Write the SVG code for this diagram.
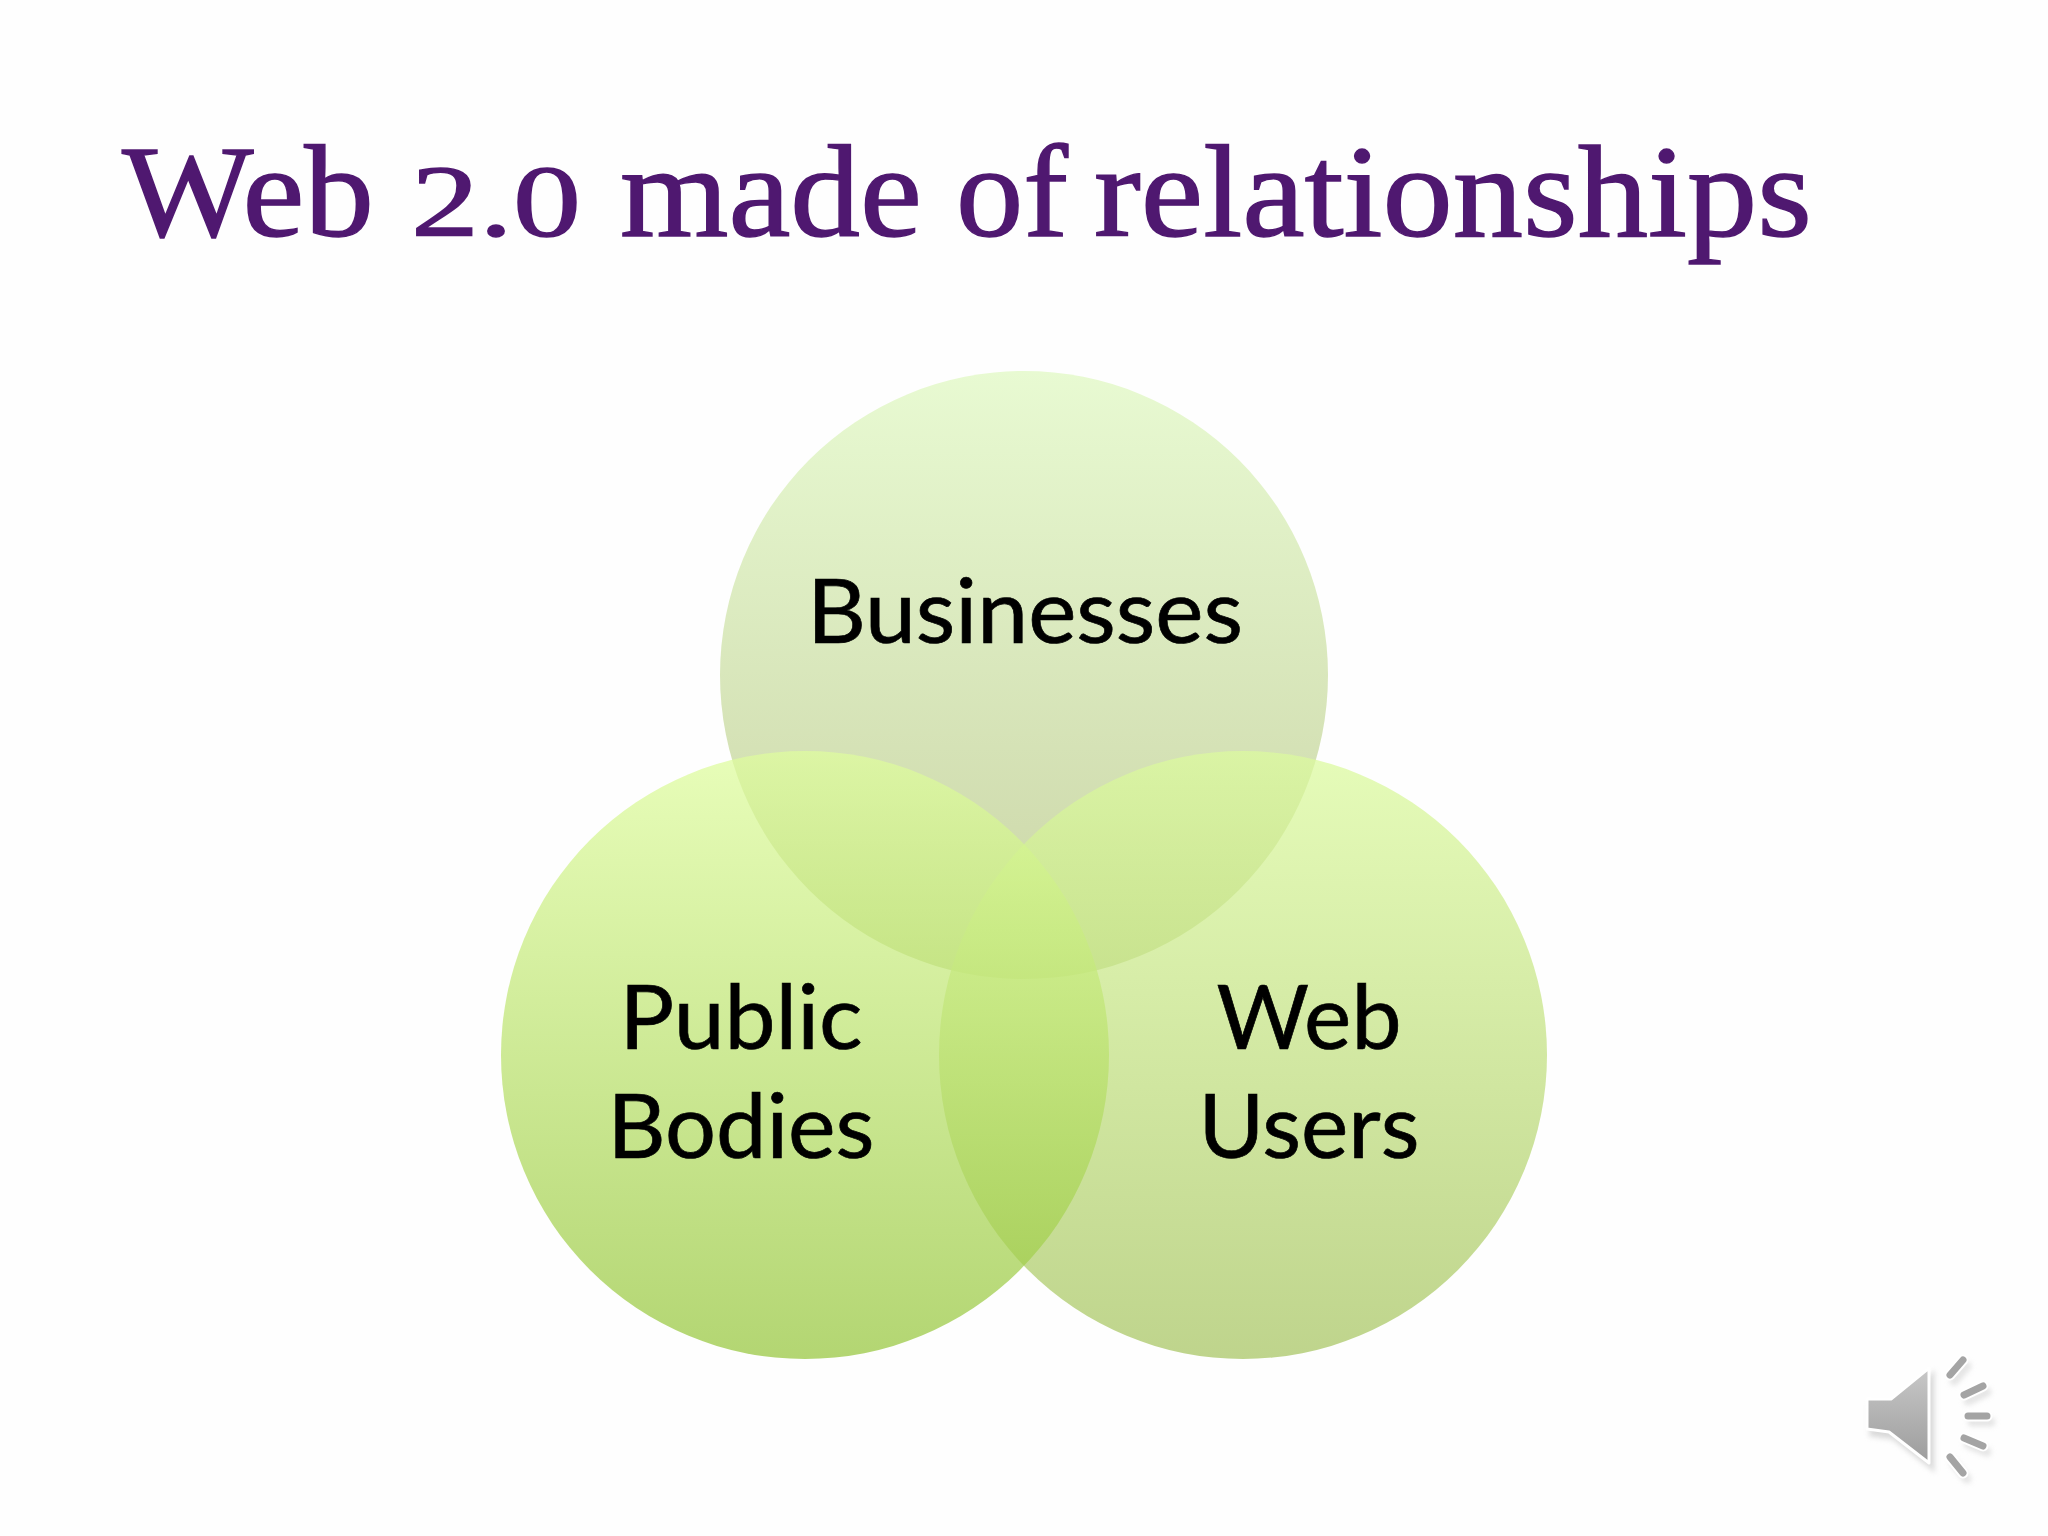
<svg xmlns="http://www.w3.org/2000/svg" width="2048" height="1536" viewBox="0 0 2048 1536">
<defs>
<linearGradient id="gb" x1="0" y1="0" x2="0" y2="1"><stop offset="0" stop-color="#e8fad2"/><stop offset="0.75" stop-color="#d1ddb0"/><stop offset="1" stop-color="#c8d8a0"/></linearGradient>
<linearGradient id="gp" x1="0" y1="0" x2="0" y2="1"><stop offset="0" stop-color="#dffd9e"/><stop offset="1" stop-color="#96c63c"/></linearGradient>
<linearGradient id="gw" x1="0" y1="0" x2="0" y2="1"><stop offset="0" stop-color="#dcfb9e"/><stop offset="1" stop-color="#a6c460"/></linearGradient>
<linearGradient id="gs" x1="0" y1="0" x2="0" y2="1"><stop offset="0" stop-color="#c8c8c8"/><stop offset="1" stop-color="#9c9c9c"/></linearGradient>
<filter id="blur" x="-20%" y="-20%" width="140%" height="140%"><feGaussianBlur stdDeviation="2.5"/></filter>
<style>
.ttl{font-family:"Liberation Serif",serif;font-size:132px;fill:#4f1870;stroke:#4f1870;stroke-width:1.4}
.lab{font-family:"Lato","Liberation Sans",sans-serif;font-size:90px;fill:#000;stroke:#000;stroke-width:0.7;text-anchor:middle}
.tick{stroke:#a4a4a4;stroke-width:7;stroke-linecap:round;fill:none}
.under{stroke:#fff;stroke-width:11;stroke-linecap:round;fill:none}
.halo{stroke:#d4d4d4;stroke-width:9;stroke-linecap:round;fill:none}
</style>
</defs>
<rect width="2048" height="1536" fill="#fefefe"/>
<g id="title"><text class="ttl" y="236"><tspan x="122" textLength="252" lengthAdjust="spacingAndGlyphs">Web</tspan> <tspan x="411" font-size="102" textLength="170" lengthAdjust="spacingAndGlyphs">2.0</tspan> <tspan x="620" textLength="302" lengthAdjust="spacingAndGlyphs">made</tspan> <tspan x="956" textLength="112" lengthAdjust="spacingAndGlyphs">of</tspan> <tspan x="1094" textLength="718" lengthAdjust="spacingAndGlyphs">relationships</tspan></text></g>
<g id="node-businesses"><circle cx="1024" cy="675" r="304" fill="url(#gb)"/></g>
<g id="node-web-users"><circle cx="1243" cy="1055" r="304" fill="url(#gw)" fill-opacity="0.72"/></g>
<g id="node-public-bodies"><circle cx="805" cy="1055" r="304" fill="url(#gp)" fill-opacity="0.72"/></g>
<g id="connectors"></g>
<g id="labels">
<text class="lab" x="1025" y="643" textLength="436" lengthAdjust="spacingAndGlyphs">Businesses</text>
<text class="lab" x="741" y="1049" textLength="243" lengthAdjust="spacingAndGlyphs">Public</text>
<text class="lab" x="741" y="1158" textLength="267" lengthAdjust="spacingAndGlyphs">Bodies</text>
<text class="lab" x="1309" y="1049" textLength="185" lengthAdjust="spacingAndGlyphs">Web</text>
<text class="lab" x="1309" y="1158" textLength="221" lengthAdjust="spacingAndGlyphs">Users</text>
</g>
<g id="speaker">
<g filter="url(#blur)" opacity="0.6" transform="translate(4,6)">
<path d="M1867 1399H1891L1929 1368V1463L1889 1432L1867 1429Z" fill="#bbb" stroke="#ccc" stroke-width="4"/>
<path class="halo" d="M1950 1375L1963 1360M1964 1395L1983 1386M1968 1416H1987M1964 1438L1983 1446M1950 1457L1963 1473"/>
</g>
<path d="M1867 1399H1891L1929 1368V1463L1889 1432L1867 1429Z" fill="url(#gs)" stroke="#fff" stroke-width="3" stroke-linejoin="round"/>
<path class="under" d="M1950 1375L1963 1360M1964 1395L1983 1386M1968 1416H1987M1964 1438L1983 1446M1950 1457L1963 1473"/>
<path class="tick" d="M1950 1375L1963 1360M1964 1395L1983 1386M1968 1416H1987M1964 1438L1983 1446M1950 1457L1963 1473"/>
</g>
</svg>
